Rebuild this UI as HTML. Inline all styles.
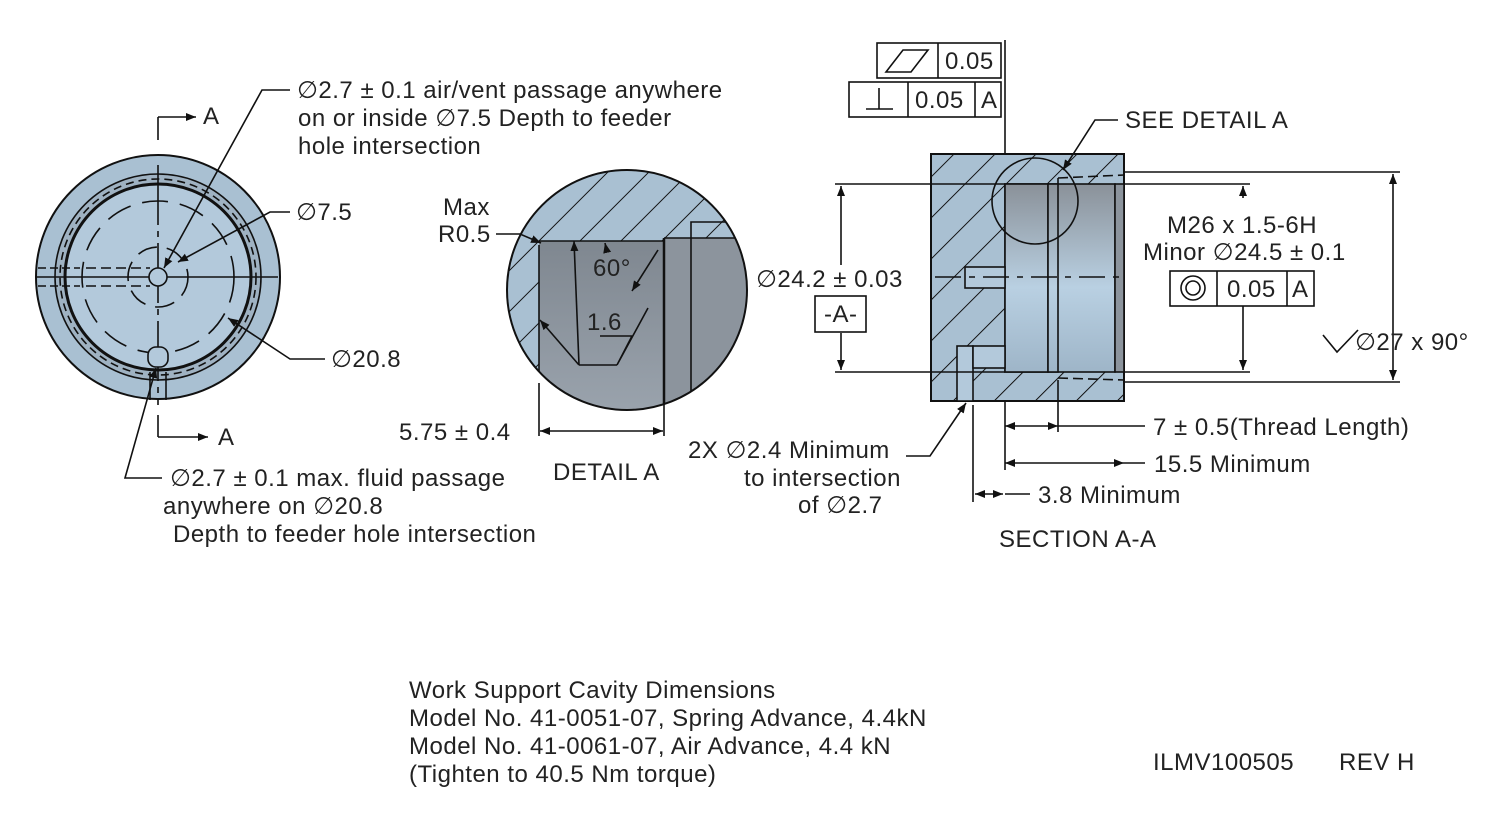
<!DOCTYPE html>
<html><head><meta charset="utf-8"><style>
html,body{margin:0;padding:0;background:#fff;}
svg{display:block;font-family:"Liberation Sans","DejaVu Sans",sans-serif;}
text{fill:#222;font-size:24px;letter-spacing:0.5px;}
</style></head><body>
<svg width="1500" height="840" viewBox="0 0 1500 840" xmlns="http://www.w3.org/2000/svg">
<defs>
<marker id="ar" viewBox="0 0 10 10" refX="10" refY="5" markerWidth="10" markerHeight="10" orient="auto-start-reverse" markerUnits="userSpaceOnUse"><path d="M0,1 L10,5 L0,9z" fill="#111"/></marker>
<pattern id="hatch" width="29" height="29" patternUnits="userSpaceOnUse" patternTransform="rotate(45)"><rect width="29" height="29" fill="#a9c0d2"/><line x1="0" y1="0" x2="0" y2="29" stroke="#111" stroke-width="2"/></pattern>
<linearGradient id="bore" x1="0" y1="0" x2="0" y2="1"><stop offset="0" stop-color="#8a9199"/><stop offset="0.55" stop-color="#b9d0e2"/><stop offset="1" stop-color="#9eb5c8"/></linearGradient>
<linearGradient id="gray" x1="0" y1="0" x2="0" y2="1"><stop offset="0" stop-color="#7f8790"/><stop offset="1" stop-color="#9da6b0"/></linearGradient>
<clipPath id="dc"><circle cx="627" cy="290" r="120"/></clipPath>
</defs>
<g stroke="#111" stroke-width="1.6" fill="none">
<!-- Left view -->
<circle cx="158" cy="277" r="122" fill="#a9c0d2" stroke-width="2"/>
<circle cx="158" cy="277" r="103" fill="#9fb2c2"/>
<circle cx="158" cy="277" r="98" stroke-dasharray="8,5"/>
<circle cx="158" cy="277" r="93" stroke-width="3" fill="#b3c9db"/>
<circle cx="158" cy="277" r="76" stroke-dasharray="26,12"/>
<circle cx="158" cy="277" r="30" stroke-dasharray="20,10"/>
<line x1="36" y1="277" x2="278" y2="277"/>
<line x1="158" y1="165" x2="158" y2="405" stroke-dasharray="60,6,6,6"/>
<line x1="38" y1="268" x2="80" y2="268" stroke-dasharray="8,4"/><line x1="38" y1="286" x2="80" y2="286" stroke-dasharray="8,4"/>
<line x1="86" y1="268" x2="150" y2="268" stroke-dasharray="10,5"/><line x1="86" y1="286" x2="150" y2="286" stroke-dasharray="10,5"/>
<circle cx="158" cy="277" r="9" fill="#b3c9db"/>
<rect x="148" y="347" width="20" height="20" rx="8" fill="#b3c9db"/>
<line x1="150" y1="372" x2="150" y2="400"/><line x1="166" y1="372" x2="166" y2="400"/>
<!-- A markers -->
<line x1="158" y1="117" x2="158" y2="140"/><line x1="158" y1="117" x2="196" y2="117" marker-end="url(#ar)"/>
<line x1="158" y1="415" x2="158" y2="437"/><line x1="158" y1="437" x2="208" y2="437" marker-end="url(#ar)"/>
<!-- leaders left -->
<polyline points="290,90 262,90 164,268" marker-end="url(#ar)"/>
<polyline points="290,212 270,212 178,262" marker-end="url(#ar)"/>
<polyline points="325,359 290,359 228,318" marker-end="url(#ar)"/>
<polyline points="162,478 125,478 156,368" marker-end="url(#ar)"/>

<!-- Detail A -->
<g clip-path="url(#dc)">
<rect x="500" y="160" width="260" height="260" fill="url(#hatch)" stroke="none"/>
<rect x="539" y="241" width="130" height="190" fill="url(#gray)" stroke="none"/>
<rect x="664" y="238" width="100" height="190" fill="#8c949d" stroke="none"/>
<line x1="539" y1="245" x2="539" y2="420"/>
<line x1="539" y1="241" x2="664" y2="241"/>
<line x1="664" y1="238" x2="664" y2="420" stroke-width="2.5"/>
<line x1="664" y1="238" x2="760" y2="238"/>
<polyline points="691,420 691,222 730,222"/>
</g>
<circle cx="627" cy="290" r="120" stroke-width="2"/>
<polyline points="496,234 520,234 541,243" marker-end="url(#ar)"/>
<line x1="579" y1="365" x2="574" y2="241" marker-end="url(#ar)"/>
<line x1="579" y1="365" x2="617" y2="365"/>
<line x1="579" y1="365" x2="540" y2="320" marker-end="url(#ar)"/>
<polyline points="600,336 632,336 617,365 648,308"/>
<line x1="607" y1="252" x2="605" y2="243" marker-end="url(#ar)"/>
<line x1="658" y1="250" x2="632" y2="291" marker-end="url(#ar)"/>
<line x1="539" y1="383" x2="539" y2="436"/><line x1="664" y1="403" x2="664" y2="436"/>
<line x1="540" y1="431" x2="663" y2="431" marker-start="url(#ar)" marker-end="url(#ar)"/>

<!-- Section A-A -->
<rect x="931" y="154" width="193" height="247" fill="url(#hatch)" stroke-width="2"/>
<rect x="1005" y="184" width="110" height="188" fill="url(#bore)"/>
<rect x="1005" y="184" width="43" height="188" fill="url(#bore)"/>
<rect x="1048" y="184" width="10" height="188" fill="url(#bore)"/>
<rect x="1115" y="184" width="9" height="188" fill="#8c949d"/>
<line x1="1058" y1="178" x2="1058" y2="184"/>
<line x1="1058" y1="178" x2="1124" y2="175" stroke-dasharray="10,5"/>
<line x1="1058" y1="378" x2="1124" y2="380" stroke-dasharray="10,5"/>
<rect x="965" y="267" width="40" height="21" fill="#b3c9db"/>
<rect x="957" y="346" width="16" height="55" fill="#b3c9db"/>
<rect x="973" y="346" width="32" height="22" fill="#b3c9db"/>
<line x1="935" y1="277" x2="1124" y2="277" stroke-dasharray="26,8,6,8"/>
<circle cx="1035" cy="201" r="43"/>
<polyline points="1118,120 1095,120 1063,170" marker-end="url(#ar)"/>
<!-- section dims -->
<line x1="835" y1="184" x2="1005" y2="184"/><line x1="835" y1="372" x2="1005" y2="372"/>
<line x1="841" y1="186" x2="841" y2="265" marker-start="url(#ar)"/><line x1="841" y1="333" x2="841" y2="370" marker-end="url(#ar)"/>
<line x1="1124" y1="172" x2="1400" y2="172"/><line x1="1124" y1="382" x2="1400" y2="382"/>
<line x1="1393" y1="174" x2="1393" y2="380" marker-start="url(#ar)" marker-end="url(#ar)"/>
<line x1="1124" y1="184" x2="1250" y2="184"/><line x1="1124" y1="372" x2="1250" y2="372"/>
<line x1="1243" y1="198" x2="1243" y2="186" marker-end="url(#ar)"/>
<line x1="1243" y1="306" x2="1243" y2="370" marker-end="url(#ar)"/>
<line x1="1005" y1="40" x2="1005" y2="154"/><line x1="1005" y1="401" x2="1005" y2="470"/>
<line x1="973" y1="405" x2="973" y2="502"/><line x1="1058" y1="380" x2="1058" y2="432"/>
<line x1="1005" y1="426" x2="1058" y2="426" marker-start="url(#ar)" marker-end="url(#ar)"/>
<line x1="1058" y1="426" x2="1145" y2="426"/>
<line x1="1005" y1="463" x2="1124" y2="463" marker-start="url(#ar)" marker-end="url(#ar)"/>
<line x1="1124" y1="463" x2="1145" y2="463"/>
<line x1="975" y1="494" x2="1003" y2="494" marker-start="url(#ar)" marker-end="url(#ar)"/>
<line x1="1005" y1="494" x2="1030" y2="494"/>
<polyline points="906,456 930,456 966,403" marker-end="url(#ar)"/>
<!-- FCF -->
<rect x="877" y="43" width="124" height="35"/><line x1="938" y1="43" x2="938" y2="78"/>
<path d="M886,72 L903,50 L928,50 L911,72z"/>
<rect x="849" y="82" width="152" height="35"/><line x1="908" y1="82" x2="908" y2="117"/><line x1="975" y1="82" x2="975" y2="117"/>
<line x1="866" y1="109" x2="893" y2="109"/><line x1="879" y1="88" x2="879" y2="109"/>
<rect x="815" y="296" width="51" height="36"/>
<rect x="1170" y="271" width="144" height="35"/><line x1="1217" y1="271" x2="1217" y2="306"/><line x1="1287" y1="271" x2="1287" y2="306"/>
<circle cx="1193" cy="288" r="12"/><circle cx="1193" cy="288" r="7"/>
<polyline points="1323,335 1337,352 1358,330"/>
</g>
<g>
<text x="297" y="98">∅2.7 ± 0.1 air/vent passage anywhere</text>
<text x="298" y="126">on or inside ∅7.5 Depth to feeder</text>
<text x="298" y="154">hole intersection</text>
<text x="203" y="124">A</text>
<text x="296" y="220">∅7.5</text>
<text x="331" y="367">∅20.8</text>
<text x="218" y="445">A</text>
<text x="170" y="486">∅2.7 ± 0.1 max. fluid passage</text>
<text x="163" y="514">anywhere on ∅20.8</text>
<text x="173" y="542">Depth to feeder hole intersection</text>
<text x="443" y="215" font-size="21">Max</text>
<text x="438" y="242" font-size="21">R0.5</text>
<text x="593" y="276">60°</text>
<text x="587" y="330">1.6</text>
<text x="399" y="440">5.75 ± 0.4</text>
<text x="553" y="480">DETAIL A</text>
<text x="756" y="287">∅24.2 ± 0.03</text>
<text x="824" y="322">-A-</text>
<text x="945" y="69">0.05</text>
<text x="915" y="108">0.05</text><text x="981" y="108">A</text>
<text x="1125" y="128">SEE DETAIL A</text>
<text x="1167" y="233">M26 x 1.5-6H</text>
<text x="1143" y="260">Minor ∅24.5 ± 0.1</text>
<text x="1227" y="297">0.05</text><text x="1292" y="297">A</text>
<text x="1355" y="350">∅27 x 90°</text>
<text x="1153" y="435">7 ± 0.5(Thread Length)</text>
<text x="1154" y="472">15.5 Minimum</text>
<text x="1038" y="503">3.8 Minimum</text>
<text x="688" y="458">2X ∅2.4 Minimum</text>
<text x="744" y="486">to intersection</text>
<text x="798" y="513">of ∅2.7</text>
<text x="999" y="547">SECTION A-A</text>
<text x="409" y="698">Work Support Cavity Dimensions</text>
<text x="409" y="726">Model No. 41-0051-07, Spring Advance, 4.4kN</text>
<text x="409" y="754">Model No. 41-0061-07, Air Advance, 4.4 kN</text>
<text x="409" y="782">(Tighten to 40.5 Nm torque)</text>
<text x="1153" y="770">ILMV100505</text>
<text x="1339" y="770">REV H</text>
</g>
</svg>
</body></html>
